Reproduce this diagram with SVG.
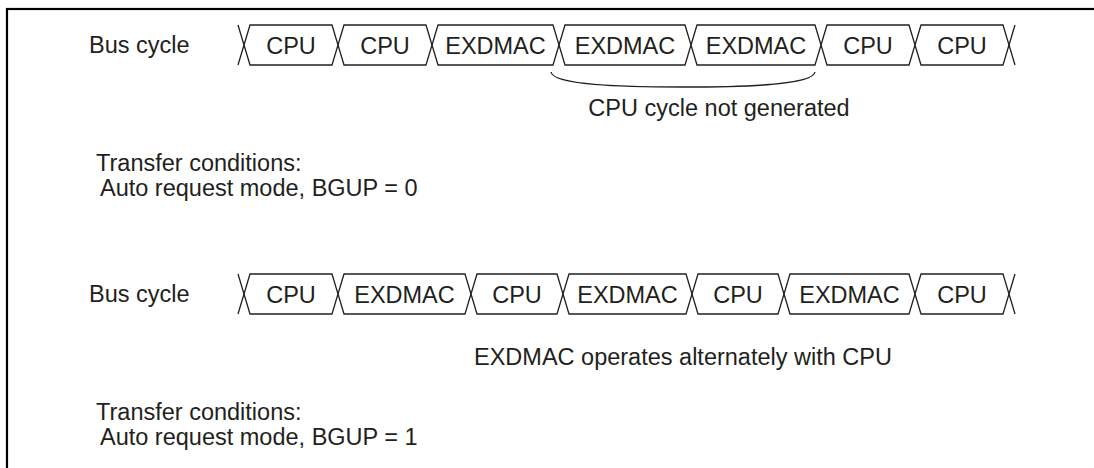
<svg xmlns="http://www.w3.org/2000/svg" width="1094" height="468" viewBox="0 0 1094 468">
<style>
.frame{fill:none;stroke:#000;stroke-width:2.2}
.w{fill:none;stroke:#231f20;stroke-width:1.3;stroke-linejoin:miter}
.t{font-family:"Liberation Sans",Arial,sans-serif;font-size:23.5px;fill:#231f20}
.c{text-anchor:middle}
</style>
<rect class="frame" x="7" y="9" width="1110" height="480"/>
<g id="row1-label"><text class="t" x="89" y="53">Bus cycle</text></g>
<g id="row1">
<g id="r1s1"><polygon class="w" points="244,45 250,25 332,25 338,45 332,65 250,65"/><text class="t c" x="291" y="54">CPU</text></g>
<g id="r1s2"><polygon class="w" points="338,45 344,25 426,25 432,45 426,65 344,65"/><text class="t c" x="385" y="54">CPU</text></g>
<g id="r1s3"><polygon class="w" points="432,45 438,25 553,25 559,45 553,65 438,65"/><text class="t c" x="495.5" y="54">EXDMAC</text></g>
<g id="r1s4"><polygon class="w" points="559,45 565,25 685,25 691,45 685,65 565,65"/><text class="t c" x="625" y="54">EXDMAC</text></g>
<g id="r1s5"><polygon class="w" points="691,45 697,25 815,25 821,45 815,65 697,65"/><text class="t c" x="756" y="54">EXDMAC</text></g>
<g id="r1s6"><polygon class="w" points="821,45 827,25 909,25 915,45 909,65 827,65"/><text class="t c" x="868" y="54">CPU</text></g>
<g id="r1s7"><polygon class="w" points="915,45 921,25 1003,25 1009,45 1003,65 921,65"/><text class="t c" x="962" y="54">CPU</text></g>
<path class="w" d="M238,25 L244,45 L238,65 M1015,25 L1009,45 L1015,65"/>
</g>
<g id="connectors">
<path class="w" d="M551,72 C553,85 620,87 683,87 C746,87 813,85 815,72"/>
</g>
<g id="note1"><text class="t c" x="719" y="116">CPU cycle not generated</text></g>
<g id="cond1"><text class="t" x="96" y="171">Transfer conditions:</text><text class="t" x="100" y="196">Auto request mode, BGUP = 0</text></g>

<g id="row2-label"><text class="t" x="89" y="302">Bus cycle</text></g>
<g id="row2">
<g id="r2s1"><polygon class="w" points="244,294 250,274 332,274 338,294 332,314 250,314"/><text class="t c" x="291" y="303">CPU</text></g>
<g id="r2s2"><polygon class="w" points="338,294 344,274 465,274 471,294 465,314 344,314"/><text class="t c" x="404.5" y="303">EXDMAC</text></g>
<g id="r2s3"><polygon class="w" points="471,294 477,274 557,274 563,294 557,314 477,314"/><text class="t c" x="517" y="303">CPU</text></g>
<g id="r2s4"><polygon class="w" points="563,294 569,274 686,274 692,294 686,314 569,314"/><text class="t c" x="627.5" y="303">EXDMAC</text></g>
<g id="r2s5"><polygon class="w" points="692,294 698,274 778,274 784,294 778,314 698,314"/><text class="t c" x="738" y="303">CPU</text></g>
<g id="r2s6"><polygon class="w" points="784,294 790,274 909,274 915,294 909,314 790,314"/><text class="t c" x="849.5" y="303">EXDMAC</text></g>
<g id="r2s7"><polygon class="w" points="915,294 921,274 1003,274 1009,294 1003,314 921,314"/><text class="t c" x="962" y="303">CPU</text></g>
<path class="w" d="M238,274 L244,294 L238,314 M1015,274 L1009,294 L1015,314"/>
</g>
<g id="note2"><text class="t c" x="683" y="365">EXDMAC operates alternately with CPU</text></g>
<g id="cond2"><text class="t" x="96" y="420">Transfer conditions:</text><text class="t" x="100" y="445">Auto request mode, BGUP = 1</text></g>
</svg>
